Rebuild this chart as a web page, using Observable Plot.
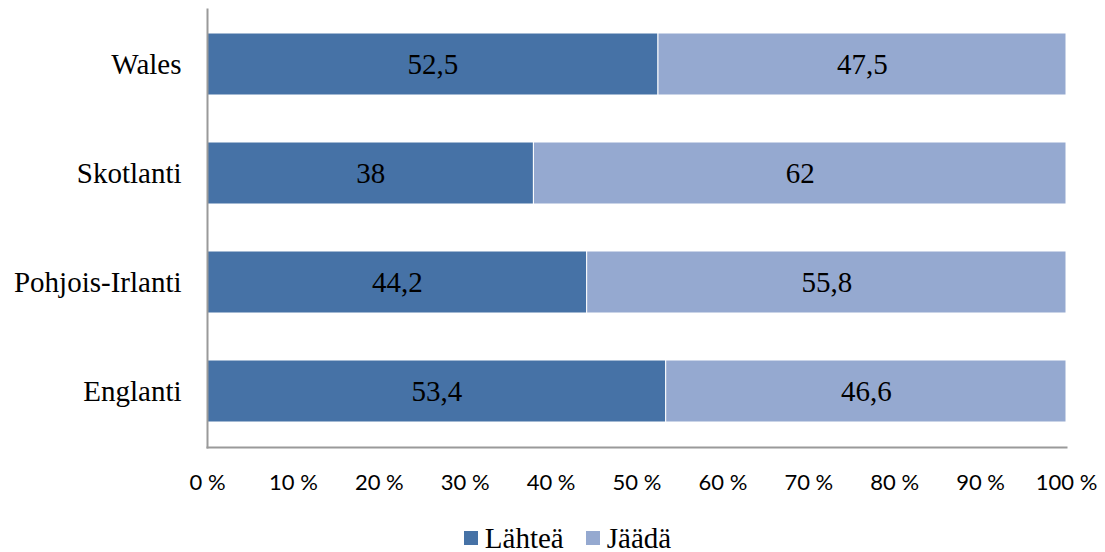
<!DOCTYPE html>
<html>
<head>
<meta charset="utf-8">
<script src="https://cdn.jsdelivr.net/npm/d3@7"></script>
<script src="https://cdn.jsdelivr.net/npm/@observablehq/plot@0.6"></script>
<style>
  body { margin: 0; background: #fff; }
  #legend { display: flex; justify-content: center; gap: 22px; font-family: "Liberation Serif", "Times New Roman", serif; font-size: 29px; color: #000; margin-top: 18px; padding-left: 30px; line-height: 30px; }
  #legend span { display: inline-flex; align-items: center; }
  #legend i { display: inline-block; width: 14px; height: 14px; margin-right: 7px; }
  g[aria-label="x-axis tick label"] text { font-family: Lato, "Open Sans", sans-serif; font-size: 22px; fill: #000; }
  g[aria-label="y-axis tick label"] text { font-family: "Liberation Serif", serif; font-size: 29px; fill: #000; }
  g[aria-label="text"] text { font-family: "Liberation Serif", serif; font-size: 29px; fill: #000; }
</style>
</head>
<body>
<div id="chart"></div>
<div id="legend"></div>
<script>
const categories = ["Wales", "Skotlanti", "Pohjois-Irlanti", "Englanti"];
const seriesNames = ["Lähteä", "Jäädä"];
const lahtea = [52.5, 38, 44.2, 53.4];
const jaada = [47.5, 62, 55.8, 46.6];
const colors = ["#4672A6", "#95A9D0"];
const xTicks = [0, 10, 20, 30, 40, 50, 60, 70, 80, 90, 100];

const data = [];
categories.forEach((c, i) => {
  data.push({cat: c, series: seriesNames[0], value: lahtea[i]});
  data.push({cat: c, series: seriesNames[1], value: jaada[i]});
});

const fmt = v => String(v).replace(".", ",");

const plot = Plot.plot({
  width: 1105,
  height: 505,
  marginLeft: 207,
  marginRight: 39,
  marginTop: 9,
  marginBottom: 58,
  style: {background: "#fff"},
  x: {domain: [0, 100], label: null},
  y: {domain: categories, paddingInner: 0.43, paddingOuter: 0.22, label: null},
  color: {domain: seriesNames, range: colors},
  marks: [
    Plot.barX(data, Plot.stackX({x: "value", y: "cat", fill: "series", order: seriesNames, stroke: "#fff", strokeWidth: 1})),
    Plot.text(data, Plot.stackX({x: "value", y: "cat", z: "series", order: seriesNames, text: d => fmt(d.value)})),
    Plot.axisX({ticks: xTicks, tickFormat: d => d + " %", tickSize: 0, tickPadding: 27, label: null}),
    Plot.axisY({tickSize: 0, tickPadding: 26, label: null}),
    Plot.frame({anchor: "left", stroke: "#9a9a9a", strokeWidth: 2}),
    Plot.frame({anchor: "bottom", stroke: "#9a9a9a", strokeWidth: 2})
  ]
});
document.getElementById("chart").appendChild(plot);

const legend = document.getElementById("legend");
seriesNames.forEach((s, i) => {
  const span = document.createElement("span");
  const sw = document.createElement("i");
  sw.style.background = colors[i];
  span.appendChild(sw);
  span.appendChild(document.createTextNode(s));
  legend.appendChild(span);
});
</script>
</body>
</html>
